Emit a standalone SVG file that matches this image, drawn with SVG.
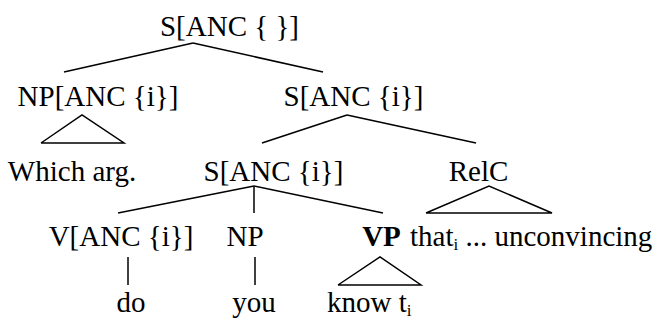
<svg xmlns="http://www.w3.org/2000/svg" width="663" height="320" viewBox="0 0 663 320">
<style>
text{font-family:"Liberation Serif","Times New Roman",serif;font-size:29px;fill:#000;text-anchor:middle}
.b{font-weight:bold}
.sub{font-size:17px}
#connectors line,#connectors polyline{stroke:#000;stroke-width:1.5;fill:none;stroke-linejoin:miter}
</style>
<rect width="663" height="320" fill="#fff"/>
<g id="connectors">
<line x1="193" y1="43" x2="64" y2="72"/>
<line x1="193" y1="43" x2="323" y2="72"/>
<polyline points="41,143 82,115 124,143 41,143"/>
<line x1="347" y1="115" x2="262" y2="143"/>
<line x1="347" y1="115" x2="476" y2="143"/>
<line x1="254" y1="186" x2="118" y2="213"/>
<line x1="254" y1="186" x2="254" y2="213"/>
<line x1="254" y1="186" x2="383" y2="213"/>
<polyline points="426,213 489,186 552,213 426,213"/>
<line x1="128" y1="257" x2="128" y2="285"/>
<line x1="255" y1="257" x2="255" y2="285"/>
<polyline points="338,285 380,257 421,285 338,285"/>
</g>
<g id="n-root"><text x="229.5" y="36">S[ANC { }]</text></g>
<g id="n-np1"><text x="98" y="106">NP[ANC {i}]</text></g>
<g id="n-s2"><text x="353.5" y="106">S[ANC {i}]</text></g>
<g id="n-which"><text x="72" y="181">Which arg.</text></g>
<g id="n-s3"><text x="273.5" y="181">S[ANC {i}]</text></g>
<g id="n-relc"><text x="478.5" y="181">RelC</text></g>
<g id="n-v"><text x="121" y="246">V[ANC {i}]</text></g>
<g id="n-np2"><text x="245" y="246">NP</text></g>
<g id="n-vp"><text class="b" x="381.5" y="246">VP</text></g>
<g id="n-that"><text x="410" y="246" style="text-anchor:start">that<tspan class="sub" dy="4">i</tspan><tspan dy="-4"> ... unconvincing</tspan></text></g>
<g id="n-do"><text x="131" y="312">do</text></g>
<g id="n-you"><text x="254" y="312">you</text></g>
<g id="n-know"><text x="327" y="312" style="text-anchor:start">know t<tspan class="sub" dy="4">i</tspan></text></g>
</svg>
